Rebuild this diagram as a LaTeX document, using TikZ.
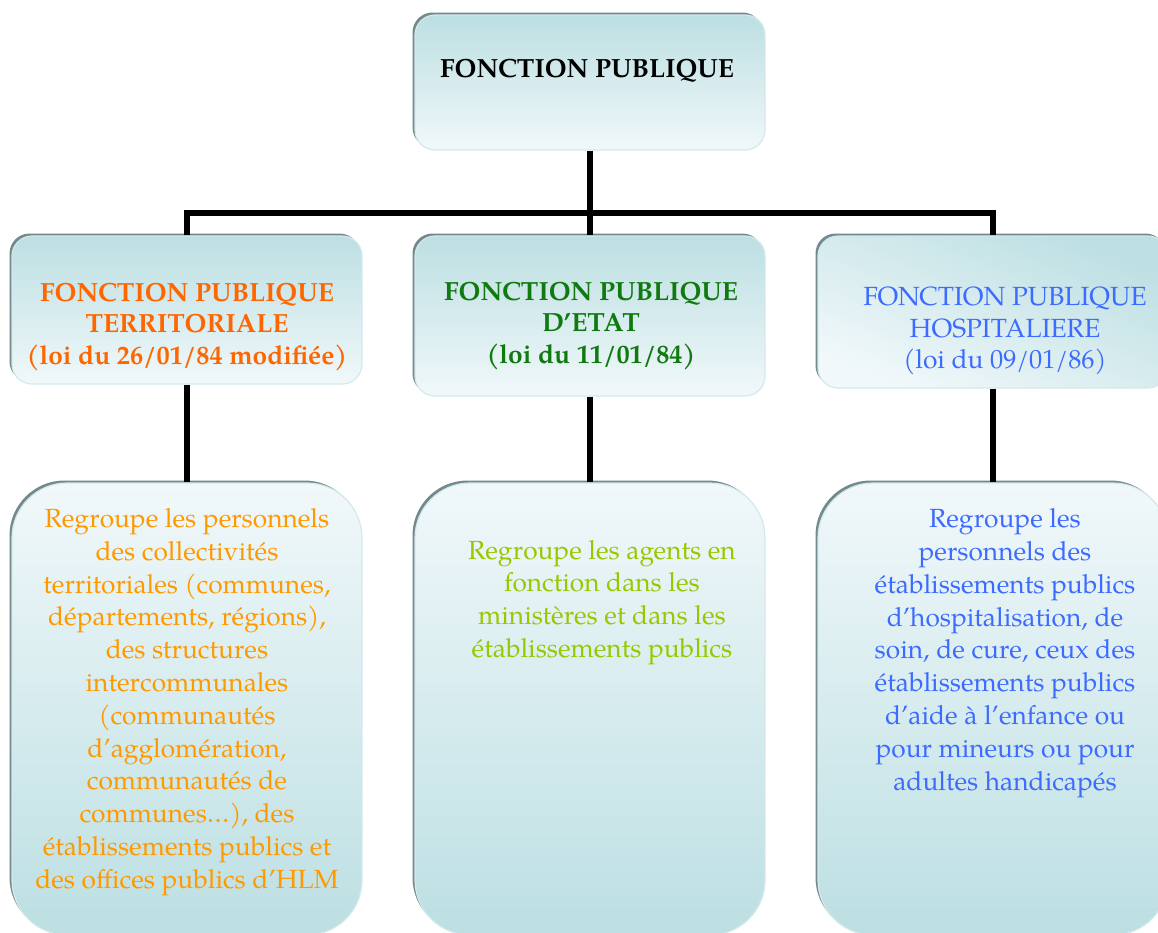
\documentclass[tikz,border=0pt]{standalone}
\usepackage{fontspec}
\setmainfont{TeX Gyre Pagella}
\usetikzlibrary{shadows}

\definecolor{tealdark}{HTML}{BCDFE2}
\definecolor{teallight}{HTML}{F1F8FA}
\definecolor{rimdark}{HTML}{74898C}
\definecolor{rimlight}{HTML}{D3E9EC}
\definecolor{terrHead}{HTML}{FF6600}
\definecolor{terrBody}{HTML}{FF9900}
\definecolor{etatHead}{HTML}{107A10}
\definecolor{etatBody}{HTML}{99C700}
\definecolor{hospBlue}{HTML}{3D6BFF}

\begin{document}
\begin{tikzpicture}[x=1pt,y=-1pt,
  panel/.style={rectangle, inner sep=0pt, minimum width=350pt,
    draw=rimlight, line width=1.2pt,
    drop shadow={shadow xshift=-2.5pt, shadow yshift=2.5pt, fill=rimdark, opacity=1}},
  headbox/.style={panel, rounded corners=20pt, top color=tealdark, bottom color=teallight},
  slantbox/.style={panel, rounded corners=20pt, top color=tealdark, bottom color=teallight, shading angle=-22},
  bodybox/.style={panel, rounded corners=55pt, top color=teallight, bottom color=tealdark},
  conn/.style={draw=black, line width=5.5pt},
  headtxt/.style={align=center, font=\fontsize{26.3}{31.8}\selectfont},
  boldhead/.style={align=center, font=\fontsize{26.3}{31.8}\selectfont\bfseries},
  bodytxt/.style={align=center, font=\fontsize{26.3}{32.8}\selectfont}
]
\useasboundingbox (0,0) rectangle (1158,932);

% boxes
\node[headbox, minimum height=135pt] (fp) at (590,82.5) {};
\node[headbox, minimum height=148pt] (ter) at (187,310) {};
\node[headbox, minimum height=160pt] (eta) at (590,316) {};
\node[slantbox, minimum height=152pt] (hos) at (993,312) {};
\node[bodybox, minimum height=452pt] (ter3) at (187,709) {};
\node[bodybox, minimum height=452pt] (eta3) at (590,709) {};
\node[bodybox, minimum height=452pt] (hos3) at (993,709) {};

% connectors
\coordinate (bus) at (590,213);
\draw[conn] (fp.south) -- (bus);
\draw[conn] (ter.north) |- (bus) -| (hos.north);
\draw[conn] (bus) -- (eta.north);
\draw[conn] (ter.south) -- (ter3.north);
\draw[conn] (eta.south) -- (eta3.north);
\draw[conn] (hos.south) -- (hos3.north);

% labels
\node[boldhead] (fpT) at (587,71) {FONCTION PUBLIQUE};
\node[boldhead, text=terrHead] (terT) at (187,327)
  {FONCTION PUBLIQUE\\TERRITORIALE\\(loi du 26/01/84 modifiée)};
\node[boldhead, text=etatHead] (etaT) at (591,326)
  {FONCTION PUBLIQUE\\D'ETAT\\(loi du 11/01/84)};
\node[headtxt, text=hospBlue] (hosT) at (1005,331)
  {FONCTION PUBLIQUE\\HOSPITALIERE\\(loi du 09/01/86)};

\node[bodytxt, text=terrBody] (ter3T) at (187,702)
  {Regroupe les personnels\\des collectivités\\territoriales (communes,\\départements, régions),\\des structures\\intercommunales\\(communautés\\d’agglomération,\\communautés de\\communes…), des\\établissements publics et\\des offices publics d’HLM};
\node[bodytxt, text=etatBody] (eta3T) at (602,602.5)
  {Regroupe les agents en\\fonction dans les\\ministères et dans les\\établissements publics};
\node[bodytxt, text=hospBlue] (hos3T) at (1005,653)
  {Regroupe les\\personnels des\\établissements publics\\d’hospitalisation, de\\soin, de cure, ceux des\\établissements publics\\d’aide à l’enfance ou\\pour mineurs ou pour\\adultes handicapés};
\end{tikzpicture}
\end{document}
